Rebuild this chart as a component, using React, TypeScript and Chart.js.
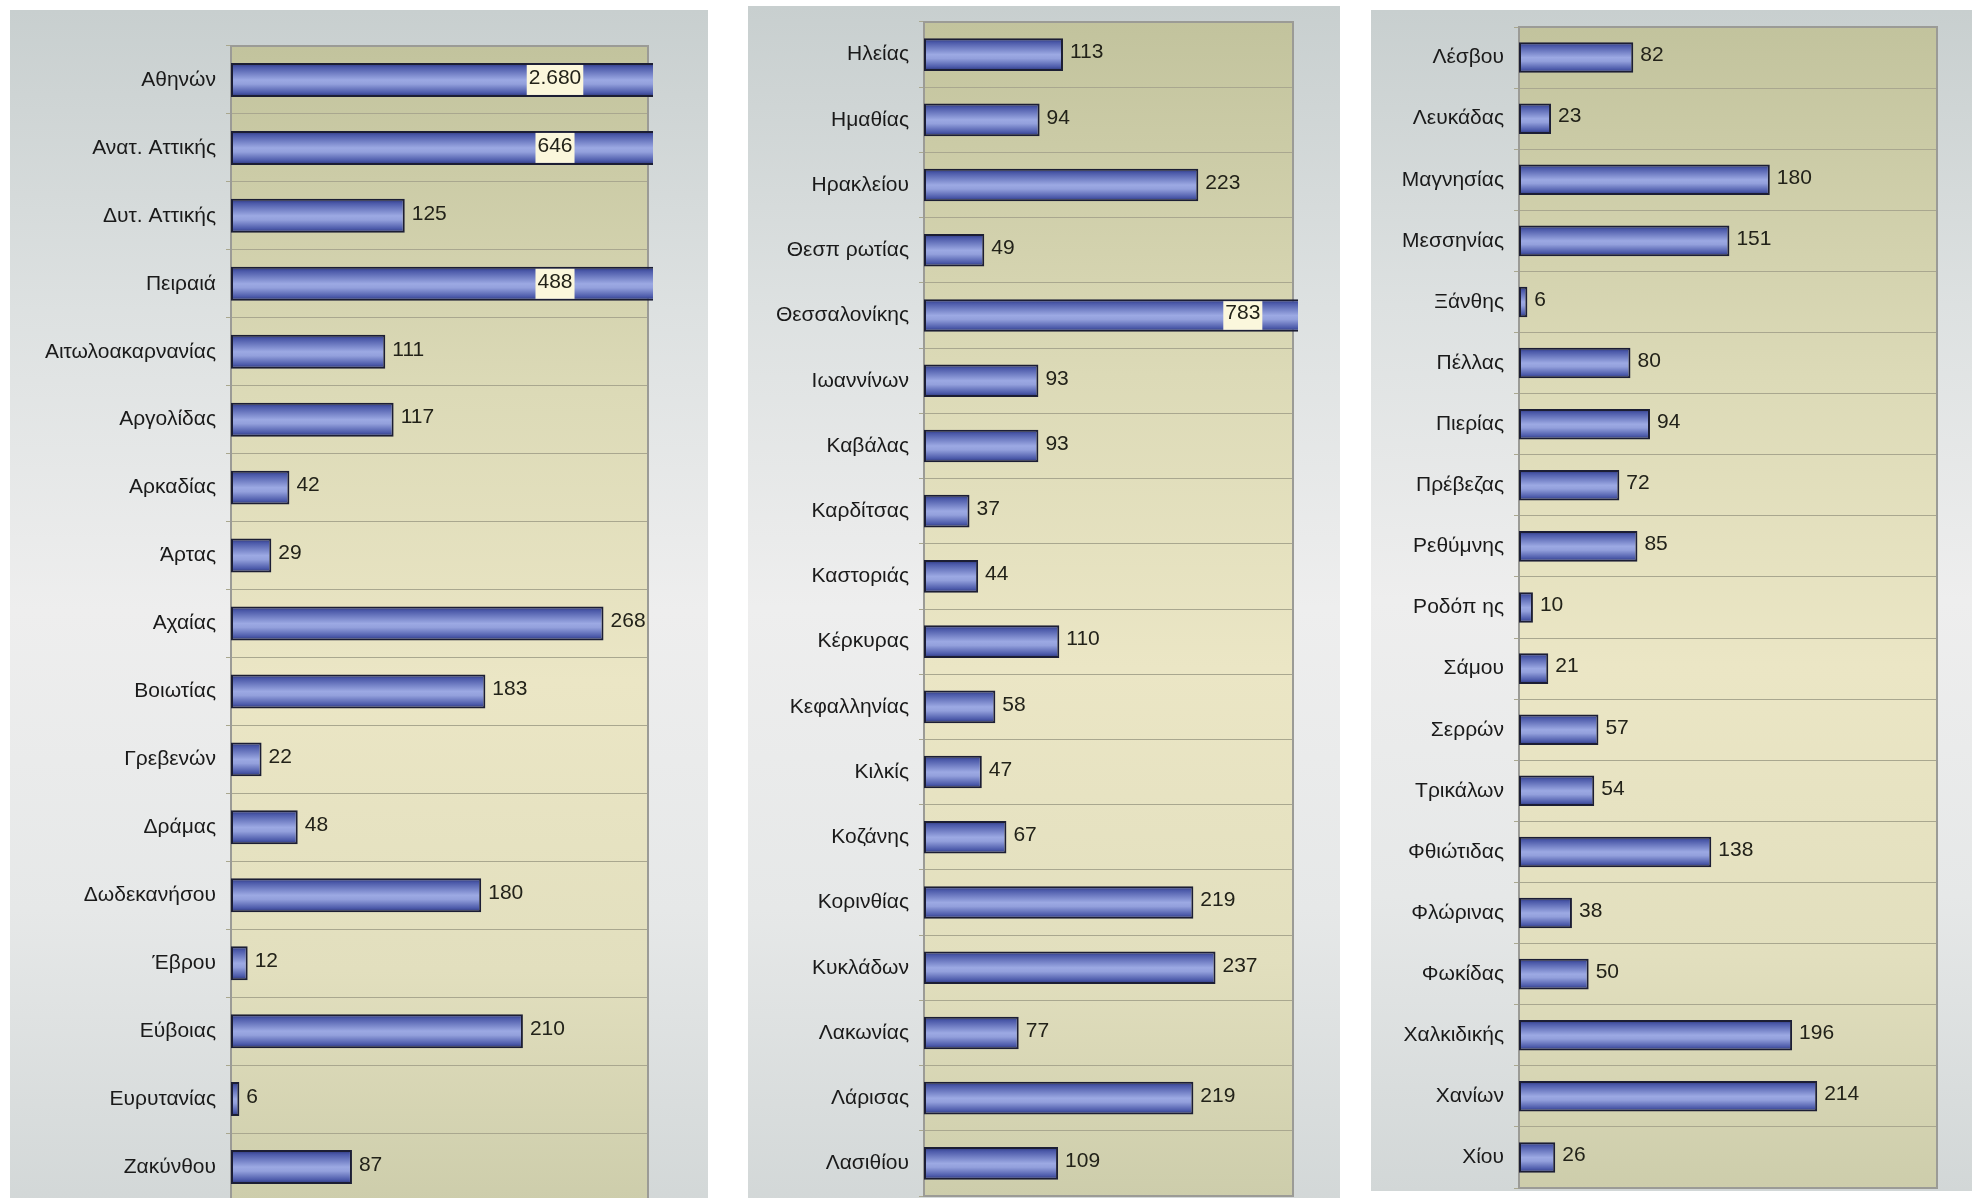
import React, { useEffect, useRef } from "react";
import { Chart, registerables } from "chart.js";

Chart.register(...registerables);

// ---------- DATA ----------
const panel1Labels = [
  "Αθηνών", "Ανατ. Αττικής", "Δυτ. Αττικής", "Πειραιά", "Αιτωλοακαρνανίας",
  "Αργολίδας", "Αρκαδίας", "Άρτας", "Αχαίας", "Βοιωτίας", "Γρεβενών",
  "Δράμας", "Δωδεκανήσου", "Έβρου", "Εύβοιας", "Ευρυτανίας", "Ζακύνθου",
];
const panel1Values = [2680, 646, 125, 488, 111, 117, 42, 29, 268, 183, 22, 48, 180, 12, 210, 6, 87];

const panel2Labels = [
  "Ηλείας", "Ημαθίας", "Ηρακλείου", "Θεσπ ρωτίας", "Θεσσαλονίκης", "Ιωαννίνων",
  "Καβάλας", "Καρδίτσας", "Καστοριάς", "Κέρκυρας", "Κεφαλληνίας", "Κιλκίς",
  "Κοζάνης", "Κορινθίας", "Κυκλάδων", "Λακωνίας", "Λάρισας", "Λασιθίου",
];
const panel2Values = [113, 94, 223, 49, 783, 93, 93, 37, 44, 110, 58, 47, 67, 219, 237, 77, 219, 109];

const panel3Labels = [
  "Λέσβου", "Λευκάδας", "Μαγνησίας", "Μεσσηνίας", "Ξάνθης", "Πέλλας", "Πιερίας",
  "Πρέβεζας", "Ρεθύμνης", "Ροδόπ ης", "Σάμου", "Σερρών", "Τρικάλων", "Φθιώτιδας",
  "Φλώρινας", "Φωκίδας", "Χαλκιδικής", "Χανίων", "Χίου",
];
const panel3Values = [82, 23, 180, 151, 6, 80, 94, 72, 85, 10, 21, 57, 54, 138, 38, 50, 196, 214, 26];

const axisMax = 300;

// ---------- HELPERS ----------
const fmt = (v: number) => String(v).replace(/\B(?=(\d{3})+(?!\d))/g, ".");
const FONT = '"Liberation Sans", Arial, sans-serif';

type Rect = { x: number; y: number; w: number; h: number };
type PlotRect = { l: number; t: number; r: number; b: number };

function Panel(props: {
  labels: string[];
  values: number[];
  outer: Rect;
  plot: PlotRect;
  overflowFrac: number;
}) {
  const { labels, values, outer, plot, overflowFrac } = props;
  const ref = useRef<HTMLCanvasElement | null>(null);

  useEffect(() => {
    const canvas = ref.current!;
    const barPct = 0.5;

    const bgPlugin = {
      id: "plotbg",
      beforeDraw(chart: any) {
        const { ctx, chartArea: a } = chart;
        const g = ctx.createLinearGradient(0, a.top, 0, a.bottom);
        g.addColorStop(0, "#c2c39d");
        g.addColorStop(0.3, "#dcdab7");
        g.addColorStop(0.55, "#ebe6c5");
        g.addColorStop(0.8, "#e2dfbe");
        g.addColorStop(1, "#cdcdab");
        ctx.save();
        ctx.fillStyle = g;
        ctx.fillRect(a.left, a.top, a.right - a.left, a.bottom - a.top);
        ctx.restore();
      },
      beforeDatasetsDraw(chart: any) {
        const { ctx, chartArea: a } = chart;
        ctx.save();
        ctx.strokeStyle = "#9b9b96";
        ctx.lineWidth = 2;
        ctx.strokeRect(a.left, a.top, a.right - a.left, a.bottom - a.top);
        ctx.restore();
      },
    };

    const labelPlugin = {
      id: "vals",
      afterDatasetsDraw(chart: any) {
        const { ctx, chartArea: a } = chart;
        const meta = chart.getDatasetMeta(0);
        ctx.save();
        ctx.font = `21px ${FONT}`;
        ctx.textBaseline = "middle";
        meta.data.forEach((el: any, i: number) => {
          const v = values[i];
          const txt = fmt(v);
          if (v > axisMax) {
            const cx = a.left + overflowFrac * (a.right - a.left);
            const tw = ctx.measureText(txt).width;
            const h = el.height - 4;
            ctx.fillStyle = "#fbf7dc";
            ctx.fillRect(cx - tw / 2 - 2, el.y - h / 2, tw + 4, h);
            ctx.fillStyle = "#222219";
            ctx.textAlign = "center";
            ctx.fillText(txt, cx, el.y - 2);
          } else {
            ctx.fillStyle = "#222219";
            ctx.textAlign = "left";
            ctx.fillText(txt, el.x + 7, el.y - 2);
          }
        });
        ctx.restore();
      },
    };

    const chart = new Chart(canvas, {
      type: "bar",
      data: {
        labels,
        datasets: [
          {
            data: values,
            backgroundColor: (c: any) => {
              const ch = c.chart;
              const a = ch.chartArea;
              if (!a || c.type !== "data" || !ch.scales.y) return "#6e7cc4";
              const yc = ch.scales.y.getPixelForValue(c.dataIndex);
              const band = (a.bottom - a.top) / labels.length;
              const h = band * barPct;
              const g = ch.ctx.createLinearGradient(0, yc - h / 2, 0, yc + h / 2);
              g.addColorStop(0, "#2a3276");
              g.addColorStop(0.12, "#4a58a8");
              g.addColorStop(0.5, "#9ca9e3");
              g.addColorStop(0.62, "#93a0dc");
              g.addColorStop(0.88, "#4c5aaa");
              g.addColorStop(1, "#283070");
              return g;
            },
            borderColor: "#1c1e34",
            borderWidth: 2,
            borderSkipped: false,
            barPercentage: barPct,
            categoryPercentage: 1,
            clip: { left: 0, top: 0, right: 5, bottom: 0 },
          } as any,
        ],
      },
      options: {
        indexAxis: "y",
        responsive: false,
        maintainAspectRatio: false,
        animation: false,
        events: [],
        layout: {
          padding: {
            left: 0,
            top: plot.t - outer.y,
            right: outer.x + outer.w - plot.r,
            bottom: outer.y + outer.h - plot.b,
          },
        },
        plugins: { legend: { display: false }, tooltip: { enabled: false } },
        scales: {
          x: { display: false, min: 0, max: axisMax },
          y: {
            afterFit: (s: any) => {
              s.width = plot.l - outer.x;
              s.paddingTop = 0;
              s.paddingBottom = 0;
            },
            grid: { offset: true, color: "#a9a78f", lineWidth: 1, tickLength: 5, drawTicks: true },
            border: { display: false },
            ticks: {
              autoSkip: false,
              padding: 10,
              color: "#1a1a1a",
              font: { family: FONT, size: 21 },
            },
          },
        },
      } as any,
      plugins: [bgPlugin, labelPlugin],
    });
    return () => chart.destroy();
  }, []);

  return (
    <canvas
      ref={ref}
      width={outer.w}
      height={outer.h}
      style={{
        position: "absolute",
        left: outer.x,
        top: outer.y,
        width: outer.w,
        height: outer.h,
        background:
          "linear-gradient(180deg, #c8cfcf 0%, #dde1e1 25%, #eeeeee 50%, #e6e8e8 75%, #d2d7d7 100%)",
      }}
    />
  );
}

export default function App() {
  return (
    <div
      style={{
        position: "fixed",
        left: 0,
        top: 0,
        width: 1972,
        height: 1198,
        overflow: "hidden",
        background: "#ffffff",
      }}
    >
      <Panel
        labels={panel1Labels}
        values={panel1Values}
        outer={{ x: 10, y: 10, w: 698, h: 1200 }}
        plot={{ l: 231, t: 46, r: 648, b: 1201 }}
        overflowFrac={0.777}
      />
      <Panel
        labels={panel2Labels}
        values={panel2Values}
        outer={{ x: 748, y: 6, w: 592, h: 1204 }}
        plot={{ l: 924, t: 22, r: 1293, b: 1196 }}
        overflowFrac={0.864}
      />
      <Panel
        labels={panel3Labels}
        values={panel3Values}
        outer={{ x: 1371, y: 10, w: 601, h: 1181 }}
        plot={{ l: 1519, t: 27, r: 1937, b: 1188 }}
        overflowFrac={0.5}
      />
    </div>
  );
}
